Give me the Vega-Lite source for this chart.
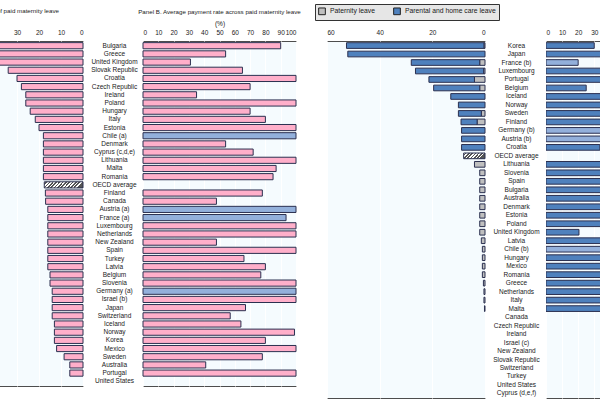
{
  "$schema": "https://vega.github.io/schema/vega-lite/v6.json",
  "padding": {"left": -50, "top": 3, "right": 0, "bottom": 0},
  "background": "#ffffff",
  "datasets": {
    "left": [
      {"country": "Bulgaria", "weeks": 58.6, "rate": 90, "rateNote": "flat"},
      {"country": "Greece", "weeks": 43, "rate": 54, "rateNote": "flat"},
      {"country": "United Kingdom", "weeks": 39, "rate": 31, "rateNote": "flat"},
      {"country": "Slovak Republic", "weeks": 34, "rate": 65, "rateNote": "flat"},
      {"country": "Croatia", "weeks": 30, "rate": 100, "rateNote": "flat"},
      {"country": "Czech Republic", "weeks": 28, "rate": 70, "rateNote": "flat"},
      {"country": "Ireland", "weeks": 26, "rate": 35, "rateNote": "flat"},
      {"country": "Poland", "weeks": 26, "rate": 100, "rateNote": "flat"},
      {"country": "Hungary", "weeks": 24, "rate": 70, "rateNote": "flat"},
      {"country": "Italy", "weeks": 21.7, "rate": 80, "rateNote": "flat"},
      {"country": "Estonia", "weeks": 20, "rate": 100, "rateNote": "flat"},
      {"country": "Chile (a)", "weeks": 18, "rate": 100, "rateNote": "varies"},
      {"country": "Denmark", "weeks": 18, "rate": 54, "rateNote": "flat"},
      {"country": "Cyprus (c,d,e)", "weeks": 18, "rate": 72, "rateNote": "flat"},
      {"country": "Lithuania", "weeks": 18, "rate": 100, "rateNote": "flat"},
      {"country": "Malta", "weeks": 18, "rate": 87, "rateNote": "flat"},
      {"country": "Romania", "weeks": 18, "rate": 85, "rateNote": "flat"},
      {"country": "OECD average", "weeks": 17.6, "rate": null, "rateNote": "flat"},
      {"country": "Finland", "weeks": 17.1, "rate": 78, "rateNote": "flat"},
      {"country": "Canada", "weeks": 17, "rate": 48, "rateNote": "flat"},
      {"country": "Austria (a)", "weeks": 16, "rate": 100, "rateNote": "varies"},
      {"country": "France (a)", "weeks": 16, "rate": 93.5, "rateNote": "varies"},
      {"country": "Luxembourg", "weeks": 16, "rate": 100, "rateNote": "flat"},
      {"country": "Netherlands", "weeks": 16, "rate": 100, "rateNote": "flat"},
      {"country": "New Zealand", "weeks": 16, "rate": 48, "rateNote": "flat"},
      {"country": "Spain", "weeks": 16, "rate": 100, "rateNote": "flat"},
      {"country": "Turkey", "weeks": 16, "rate": 66, "rateNote": "flat"},
      {"country": "Latvia", "weeks": 16, "rate": 80, "rateNote": "flat"},
      {"country": "Belgium", "weeks": 15, "rate": 77, "rateNote": "flat"},
      {"country": "Slovenia", "weeks": 15, "rate": 100, "rateNote": "flat"},
      {"country": "Germany (a)", "weeks": 14, "rate": 100, "rateNote": "varies"},
      {"country": "Israel (b)", "weeks": 14, "rate": 100, "rateNote": "flat"},
      {"country": "Japan", "weeks": 14, "rate": 67, "rateNote": "flat"},
      {"country": "Switzerland", "weeks": 14, "rate": 57, "rateNote": "flat"},
      {"country": "Iceland", "weeks": 13, "rate": 64, "rateNote": "flat"},
      {"country": "Norway", "weeks": 13, "rate": 99, "rateNote": "flat"},
      {"country": "Korea", "weeks": 13, "rate": 80, "rateNote": "flat"},
      {"country": "Mexico", "weeks": 12, "rate": 100, "rateNote": "flat"},
      {"country": "Sweden", "weeks": 8.6, "rate": 78, "rateNote": "flat"},
      {"country": "Australia", "weeks": 6, "rate": 41, "rateNote": "flat"},
      {"country": "Portugal", "weeks": 6, "rate": 100, "rateNote": "flat"},
      {"country": "United States", "weeks": 0, "rate": null, "rateNote": "flat"}
    ],
    "right": [
      {"country": "Korea", "Paternity leave": 0.4, "Parental and home care leave": 52.2, "rate": 30, "rateNote": "flat"},
      {"country": "Japan", "Paternity leave": 0, "Parental and home care leave": 52.1, "rate": 60, "rateNote": "flat"},
      {"country": "France (b)", "Paternity leave": 2.0, "Parental and home care leave": 26.0, "rate": 20, "rateNote": "varies"},
      {"country": "Luxembourg", "Paternity leave": 0.5, "Parental and home care leave": 25.9, "rate": 100, "rateNote": "flat"},
      {"country": "Portugal", "Paternity leave": 4.0, "Parental and home care leave": 17.3, "rate": 60, "rateNote": "flat"},
      {"country": "Belgium", "Paternity leave": 2.0, "Parental and home care leave": 17.5, "rate": 25, "rateNote": "flat"},
      {"country": "Iceland", "Paternity leave": 0, "Parental and home care leave": 13.0, "rate": 60, "rateNote": "flat"},
      {"country": "Norway", "Paternity leave": 0, "Parental and home care leave": 10.1, "rate": 95, "rateNote": "flat"},
      {"country": "Sweden", "Paternity leave": 1.4, "Parental and home care leave": 8.7, "rate": 78, "rateNote": "flat"},
      {"country": "Finland", "Paternity leave": 3.0, "Parental and home care leave": 6.1, "rate": 70, "rateNote": "flat"},
      {"country": "Germany (b)", "Paternity leave": 0, "Parental and home care leave": 8.9, "rate": 65, "rateNote": "varies"},
      {"country": "Austria (b)", "Paternity leave": 0, "Parental and home care leave": 8.9, "rate": 80, "rateNote": "varies"},
      {"country": "Croatia", "Paternity leave": 0, "Parental and home care leave": 8.9, "rate": 33.5, "rateNote": "flat"},
      {"country": "OECD average", "average": 8.1},
      {"country": "Lithuania", "Paternity leave": 4.0, "Parental and home care leave": 0, "rate": 100, "rateNote": "flat"},
      {"country": "Slovenia", "Paternity leave": 2.0, "Parental and home care leave": 0, "rate": 90, "rateNote": "flat"},
      {"country": "Spain", "Paternity leave": 2.0, "Parental and home care leave": 0, "rate": 100, "rateNote": "flat"},
      {"country": "Bulgaria", "Paternity leave": 2.0, "Parental and home care leave": 0, "rate": 90, "rateNote": "flat"},
      {"country": "Australia", "Paternity leave": 2.0, "Parental and home care leave": 0, "rate": 42, "rateNote": "flat"},
      {"country": "Denmark", "Paternity leave": 2.0, "Parental and home care leave": 0, "rate": 54, "rateNote": "flat"},
      {"country": "Estonia", "Paternity leave": 2.0, "Parental and home care leave": 0, "rate": 100, "rateNote": "flat"},
      {"country": "Poland", "Paternity leave": 2.0, "Parental and home care leave": 0, "rate": 100, "rateNote": "flat"},
      {"country": "United Kingdom", "Paternity leave": 2.0, "Parental and home care leave": 0, "rate": 20.5, "rateNote": "flat"},
      {"country": "Latvia", "Paternity leave": 1.4, "Parental and home care leave": 0, "rate": 80, "rateNote": "flat"},
      {"country": "Chile (b)", "Paternity leave": 1.0, "Parental and home care leave": 0, "rate": 100, "rateNote": "varies"},
      {"country": "Hungary", "Paternity leave": 1.0, "Parental and home care leave": 0, "rate": 100, "rateNote": "flat"},
      {"country": "Mexico", "Paternity leave": 1.0, "Parental and home care leave": 0, "rate": 100, "rateNote": "flat"},
      {"country": "Romania", "Paternity leave": 1.0, "Parental and home care leave": 0, "rate": 85, "rateNote": "flat"},
      {"country": "Greece", "Paternity leave": 0.6, "Parental and home care leave": 0, "rate": 100, "rateNote": "flat"},
      {"country": "Netherlands", "Paternity leave": 0.4, "Parental and home care leave": 0, "rate": 100, "rateNote": "flat"},
      {"country": "Italy", "Paternity leave": 0.4, "Parental and home care leave": 0, "rate": 100, "rateNote": "flat"},
      {"country": "Malta", "Paternity leave": 0.2, "Parental and home care leave": 0, "rate": 100, "rateNote": "flat"},
      {"country": "Canada", "Paternity leave": 0, "Parental and home care leave": 0, "rate": null, "rateNote": "flat"},
      {"country": "Czech Republic", "Paternity leave": 0, "Parental and home care leave": 0, "rate": null, "rateNote": "flat"},
      {"country": "Ireland", "Paternity leave": 0, "Parental and home care leave": 0, "rate": null, "rateNote": "flat"},
      {"country": "Israel (c)", "Paternity leave": 0, "Parental and home care leave": 0, "rate": null, "rateNote": "flat"},
      {"country": "New Zealand", "Paternity leave": 0, "Parental and home care leave": 0, "rate": null, "rateNote": "flat"},
      {"country": "Slovak Republic", "Paternity leave": 0, "Parental and home care leave": 0, "rate": null, "rateNote": "flat"},
      {"country": "Switzerland", "Paternity leave": 0, "Parental and home care leave": 0, "rate": null, "rateNote": "flat"},
      {"country": "Turkey", "Paternity leave": 0, "Parental and home care leave": 0, "rate": null, "rateNote": "flat"},
      {"country": "United States", "Paternity leave": 0, "Parental and home care leave": 0, "rate": null, "rateNote": "flat"},
      {"country": "Cyprus (d,e,f)", "Paternity leave": 0, "Parental and home care leave": 0, "rate": null, "rateNote": "flat"}
    ]
  },
  "spacing": 0,
  "bounds": "flush",
  "resolve": {"scale": {"color": "independent"}, "legend": {"color": "independent"}},
  "hconcat": [
    {
      "width": 132,
      "height": 345,
      "view": {"stroke": "#4d4d4d", "fill": "#f5fbfe"},
      "title": {"text": "Panel A. Length of paid maternity leave", "anchor": "end", "frame": "group", "dx": -24, "offset": 15},
      "data": {"name": "left"},
      "encoding": {
        "y": {"field": "country", "type": "nominal", "scale": {"domain": ["Bulgaria","Greece","United Kingdom","Slovak Republic","Croatia","Czech Republic","Ireland","Poland","Hungary","Italy","Estonia","Chile (a)","Denmark","Cyprus (c,d,e)","Lithuania","Malta","Romania","OECD average","Finland","Canada","Austria (a)","France (a)","Luxembourg","Netherlands","New Zealand","Spain","Turkey","Latvia","Belgium","Slovenia","Germany (a)","Israel (b)","Japan","Switzerland","Iceland","Norway","Korea","Mexico","Sweden","Australia","Portugal","United States"], "paddingInner": 0.25, "paddingOuter": 0.2}, "axis": null},
        "x": {"field": "weeks", "type": "quantitative", "scale": {"domain": [0, 60], "reverse": true, "nice": false}, "axis": {"orient": "top", "values": [0, 10, 20, 30, 40, 50, 60], "title": null}}
      },
      "layer": [
        {
          "transform": [{"filter": "datum.country !== 'OECD average' && datum.weeks > 0"}],
          "mark": {"type": "bar", "fill": "#ffafca", "stroke": "#2b3050", "strokeWidth": 1}
        },
        {
          "transform": [{"filter": "datum.country === 'OECD average'"}],
          "mark": {"type": "bar", "stroke": "#2b3050", "strokeWidth": 1, "fill": {"gradient": "linear", "x1": 0, "y1": 0, "x2": 1, "y2": 0.15, "stops": [
            {"offset": 0, "color": "#ffffff"}, {"offset": 0.0417, "color": "#ffffff"}, {"offset": 0.0417, "color": "#555555"}, {"offset": 0.0833, "color": "#555555"},
            {"offset": 0.0833, "color": "#ffffff"}, {"offset": 0.125, "color": "#ffffff"}, {"offset": 0.125, "color": "#555555"}, {"offset": 0.1667, "color": "#555555"},
            {"offset": 0.1667, "color": "#ffffff"}, {"offset": 0.2083, "color": "#ffffff"}, {"offset": 0.2083, "color": "#555555"}, {"offset": 0.25, "color": "#555555"},
            {"offset": 0.25, "color": "#ffffff"}, {"offset": 0.2917, "color": "#ffffff"}, {"offset": 0.2917, "color": "#555555"}, {"offset": 0.3333, "color": "#555555"},
            {"offset": 0.3333, "color": "#ffffff"}, {"offset": 0.375, "color": "#ffffff"}, {"offset": 0.375, "color": "#555555"}, {"offset": 0.4167, "color": "#555555"},
            {"offset": 0.4167, "color": "#ffffff"}, {"offset": 0.4583, "color": "#ffffff"}, {"offset": 0.4583, "color": "#555555"}, {"offset": 0.5, "color": "#555555"},
            {"offset": 0.5, "color": "#ffffff"}, {"offset": 0.5417, "color": "#ffffff"}, {"offset": 0.5417, "color": "#555555"}, {"offset": 0.5833, "color": "#555555"},
            {"offset": 0.5833, "color": "#ffffff"}, {"offset": 0.625, "color": "#ffffff"}, {"offset": 0.625, "color": "#555555"}, {"offset": 0.6667, "color": "#555555"},
            {"offset": 0.6667, "color": "#ffffff"}, {"offset": 0.7083, "color": "#ffffff"}, {"offset": 0.7083, "color": "#555555"}, {"offset": 0.75, "color": "#555555"},
            {"offset": 0.75, "color": "#ffffff"}, {"offset": 0.7917, "color": "#ffffff"}, {"offset": 0.7917, "color": "#555555"}, {"offset": 0.8333, "color": "#555555"},
            {"offset": 0.8333, "color": "#ffffff"}, {"offset": 0.875, "color": "#ffffff"}, {"offset": 0.875, "color": "#555555"}, {"offset": 0.9167, "color": "#555555"},
            {"offset": 0.9167, "color": "#ffffff"}, {"offset": 0.9583, "color": "#ffffff"}, {"offset": 0.9583, "color": "#555555"}, {"offset": 1, "color": "#555555"}
          ]}}
        }
      ]
    },
    {"width": 60, "height": 345, "view": {"stroke": null, "fill": null}, "data": {"values": []}, "mark": "point"},
    {
      "width": 153,
      "height": 345,
      "view": {"stroke": "#4d4d4d", "fill": "#f5fbfe"},
      "title": {"text": "Panel B. Average payment rate across paid maternity leave", "anchor": "middle", "frame": "group", "offset": 5},
      "data": {"name": "left"},
      "mark": {"type": "bar", "stroke": "#2b3050", "strokeWidth": 1},
      "encoding": {
        "y": {"field": "country", "type": "nominal", "scale": {"domain": ["Bulgaria","Greece","United Kingdom","Slovak Republic","Croatia","Czech Republic","Ireland","Poland","Hungary","Italy","Estonia","Chile (a)","Denmark","Cyprus (c,d,e)","Lithuania","Malta","Romania","OECD average","Finland","Canada","Austria (a)","France (a)","Luxembourg","Netherlands","New Zealand","Spain","Turkey","Latvia","Belgium","Slovenia","Germany (a)","Israel (b)","Japan","Switzerland","Iceland","Norway","Korea","Mexico","Sweden","Australia","Portugal","United States"], "paddingInner": 0.25, "paddingOuter": 0.2}, "axis": {"title": null, "labelAlign": "center", "labelPadding": 29}},
        "x": {"field": "rate", "type": "quantitative", "scale": {"domain": [0, 100], "nice": false}, "axis": {"orient": "top", "values": [0, 10, 20, 30, 40, 50, 60, 70, 80, 90, 100], "title": "(%)", "titlePadding": 3}},
        "color": {"field": "rateNote", "type": "nominal", "scale": {"domain": ["flat", "varies"], "range": ["#ffafca", "#93b0db"]}, "legend": null}
      }
    },
    {"width": 31, "height": 345, "view": {"stroke": null, "fill": null}, "data": {"values": []}, "mark": "point"},
    {
      "width": 158,
      "height": 357,
      "view": {"stroke": "#4d4d4d", "fill": "#f5fbfe"},
      "data": {"name": "right"},
      "encoding": {
        "y": {"field": "country", "type": "nominal", "scale": {"domain": ["Korea","Japan","France (b)","Luxembourg","Portugal","Belgium","Iceland","Norway","Sweden","Finland","Germany (b)","Austria (b)","Croatia","OECD average","Lithuania","Slovenia","Spain","Bulgaria","Australia","Denmark","Estonia","Poland","United Kingdom","Latvia","Chile (b)","Hungary","Mexico","Romania","Greece","Netherlands","Italy","Malta","Canada","Czech Republic","Ireland","Israel (c)","New Zealand","Slovak Republic","Switzerland","Turkey","United States","Cyprus (d,e,f)"], "paddingInner": 0.33, "paddingOuter": 0.2}, "axis": null}
      },
      "layer": [
        {
          "transform": [
            {"fold": ["Paternity leave", "Parental and home care leave"], "as": ["leave", "weeks"]},
            {"filter": "datum.weeks > 0"}
          ],
          "mark": {"type": "bar", "stroke": "#2b3050", "strokeWidth": 1},
          "encoding": {
            "x": {"field": "weeks", "type": "quantitative", "stack": "zero", "scale": {"domain": [0, 60], "reverse": true, "nice": false}, "axis": {"orient": "top", "values": [0, 20, 40, 60], "title": null}},
            "color": {"field": "leave", "type": "nominal", "scale": {"domain": ["Paternity leave", "Parental and home care leave"], "range": ["#bfbfbf", "#4f81bd"]}, "legend": {"orient": "none", "legendX": -12, "legendY": -37, "direction": "horizontal", "title": null, "fillColor": "#e6e6e6", "strokeColor": "#333333", "padding": 3, "symbolType": "square", "symbolSize": 45, "symbolStrokeColor": "#222222", "symbolStrokeWidth": 1, "labelFontSize": 6.8, "labelColor": "#1a1a1a", "columnPadding": 16, "labelOffset": 4}},
            "order": {"field": "leave", "sort": "descending"}
          }
        },
        {
          "transform": [{"filter": "datum.country === 'OECD average'"}],
          "mark": {"type": "bar", "stroke": "#2b3050", "strokeWidth": 1, "fill": {"gradient": "linear", "x1": 0, "y1": 0, "x2": 1, "y2": 0.26, "stops": [
            {"offset": 0, "color": "#ffffff"}, {"offset": 0.0714, "color": "#ffffff"}, {"offset": 0.0714, "color": "#555555"}, {"offset": 0.1429, "color": "#555555"},
            {"offset": 0.1429, "color": "#ffffff"}, {"offset": 0.2143, "color": "#ffffff"}, {"offset": 0.2143, "color": "#555555"}, {"offset": 0.2857, "color": "#555555"},
            {"offset": 0.2857, "color": "#ffffff"}, {"offset": 0.3571, "color": "#ffffff"}, {"offset": 0.3571, "color": "#555555"}, {"offset": 0.4286, "color": "#555555"},
            {"offset": 0.4286, "color": "#ffffff"}, {"offset": 0.5, "color": "#ffffff"}, {"offset": 0.5, "color": "#555555"}, {"offset": 0.5714, "color": "#555555"},
            {"offset": 0.5714, "color": "#ffffff"}, {"offset": 0.6429, "color": "#ffffff"}, {"offset": 0.6429, "color": "#555555"}, {"offset": 0.7143, "color": "#555555"},
            {"offset": 0.7143, "color": "#ffffff"}, {"offset": 0.7857, "color": "#ffffff"}, {"offset": 0.7857, "color": "#555555"}, {"offset": 0.8571, "color": "#555555"},
            {"offset": 0.8571, "color": "#ffffff"}, {"offset": 0.9286, "color": "#ffffff"}, {"offset": 0.9286, "color": "#555555"}, {"offset": 1, "color": "#555555"}
          ]}},
          "encoding": {
            "x": {"field": "average", "type": "quantitative"}
          }
        }
      ]
    },
    {"width": 61, "height": 357, "view": {"stroke": null, "fill": null}, "data": {"values": []}, "mark": "point"},
    {
      "width": 55,
      "height": 357,
      "view": {"stroke": "#4d4d4d", "fill": "#f5fbfe"},
      "data": {"name": "right"},
      "mark": {"type": "bar", "stroke": "#2b3050", "strokeWidth": 1, "clip": true},
      "encoding": {
        "y": {"field": "country", "type": "nominal", "scale": {"domain": ["Korea","Japan","France (b)","Luxembourg","Portugal","Belgium","Iceland","Norway","Sweden","Finland","Germany (b)","Austria (b)","Croatia","OECD average","Lithuania","Slovenia","Spain","Bulgaria","Australia","Denmark","Estonia","Poland","United Kingdom","Latvia","Chile (b)","Hungary","Mexico","Romania","Greece","Netherlands","Italy","Malta","Canada","Czech Republic","Ireland","Israel (c)","New Zealand","Slovak Republic","Switzerland","Turkey","United States","Cyprus (d,e,f)"], "paddingInner": 0.33, "paddingOuter": 0.2}, "axis": {"title": null, "labelAlign": "center", "labelPadding": 30}},
        "x": {"field": "rate", "type": "quantitative", "scale": {"domain": [0, 34.2], "nice": false}, "axis": {"orient": "top", "values": [0, 10, 20, 30], "title": null}},
        "color": {"field": "rateNote", "type": "nominal", "scale": {"domain": ["flat", "varies"], "range": ["#4f81bd", "#93b0db"]}, "legend": null}
      }
    }
  ],
  "config": {
    "font": "Liberation Sans",
    "axis": {"labelFontSize": 6.5, "labelColor": "#1a1a1a", "domain": false, "ticks": false, "tickSize": 0, "labelPadding": 2, "titleFontWeight": "normal", "titleFontSize": 6.5, "titleColor": "#1a1a1a"},
    "axisX": {"grid": true, "gridColor": "#ffffff", "gridWidth": 1, "labelPadding": 6},
    "axisY": {"grid": false, "labelFontSize": 6.5},
    "title": {"fontSize": 6.2, "fontWeight": "normal", "color": "#1a1a1a"}
  }
}
